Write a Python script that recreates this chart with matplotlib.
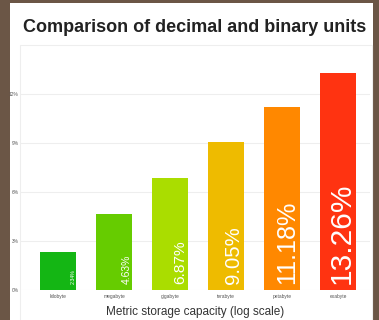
import matplotlib
matplotlib.use("Agg")
import matplotlib.pyplot as plt
from matplotlib.patches import Rectangle

units = ['kilobyte', 'megabyte', 'gigabyte', 'terabyte', 'petabyte', 'exabyte']
diff_pct = [2.34, 4.63, 6.87, 9.05, 11.18, 13.26]
bar_colors = ['#14b614', '#66cc00', '#aadd00', '#eebb00', '#ff8800', '#ff3311']
yticks = [0, 3, 6, 9, 12]

plt.rcParams['font.family'] = ['Liberation Sans', 'DejaVu Sans']

fig = plt.figure(figsize=(3.79, 3.20), dpi=100)
fig.patch.set_facecolor('#6b5646')

# white card behind the chart
W, H = 379.0, 320.0
fig.patches.append(Rectangle((10 / W, 0), 363 / W, 317 / H, transform=fig.transFigure,
                             facecolor='white', edgecolor='none', zorder=-2))
# faint chart area frame
fig.patches.append(Rectangle((20 / W, -0.01), 352 / W, (320 - 45) / H + 0.01, transform=fig.transFigure,
                             facecolor='none', edgecolor='#eeeeee', lw=0.8, zorder=-1))

fig.text(195 / W, 1 - 27 / H, 'Comparison of decimal and binary units', ha='center', va='center',
         fontsize=13, fontweight='bold', color='#222222')

ax = fig.add_axes([20 / W, 30 / H, 350 / W, (290 - 61.4) / H])
ax.set_facecolor('none')
x = list(range(len(units)))
ax.bar(x, diff_pct, width=0.64, color=bar_colors, zorder=2)
ax.set_xlim(-0.68, 5.57)
ax.set_ylim(0, 14)
ax.set_yticks(yticks)
ax.set_yticklabels([f'{v}%' for v in yticks], fontsize=3.5, color='#555555')
ax.set_xticks(x)
ax.set_xticklabels(units, fontsize=3.5, color='#555555')
ax.tick_params(length=0, pad=3)
ax.tick_params(axis='y', pad=1)
ax.grid(axis='y', color='#eeeeee', lw=0.8, zorder=0)
for s in ax.spines.values():
    s.set_visible(False)

# value labels grow with the bar
for xi, v in zip(x, diff_pct):
    ax.text(xi + 0.31, 0.35, f'{v:.2f}%', rotation=90, ha='right', va='bottom',
            color='white', fontsize=v * 1.62, zorder=3)

ax.set_xlabel('Metric storage capacity (log scale)', fontsize=8.5, color='#333333', labelpad=5)

fig.savefig('out.png', dpi=100, facecolor=fig.get_facecolor())
